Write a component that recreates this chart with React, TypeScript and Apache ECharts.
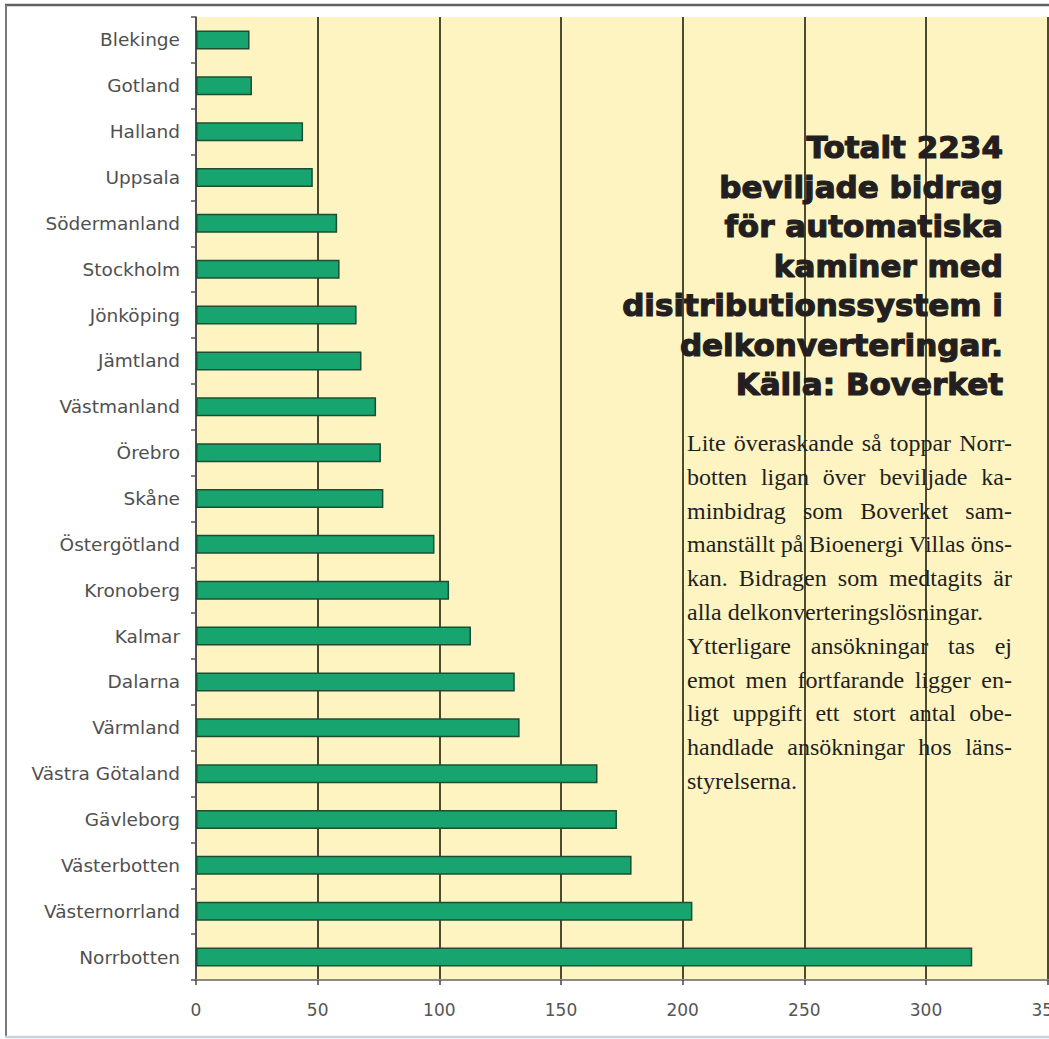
import React, { useEffect, useRef } from "react";
import * as echarts from "echarts";

const categories = [
  "Blekinge", "Gotland", "Halland", "Uppsala", "Södermanland", "Stockholm",
  "Jönköping", "Jämtland", "Västmanland", "Örebro", "Skåne", "Östergötland",
  "Kronoberg", "Kalmar", "Dalarna", "Värmland", "Västra Götaland", "Gävleborg",
  "Västerbotten", "Västernorrland", "Norrbotten",
];
const values = [
  22, 23, 44, 48, 58, 59, 66, 68, 74, 76, 77, 98, 104, 113, 131, 133, 165, 173,
  179, 204, 319,
];
const xMin = 0;
const xMax = 360;
const xInterval = 50;

const titleLines = [
  "Totalt 2234",
  "beviljade bidrag",
  "för automatiska",
  "kaminer med",
  "disitributionssystem i",
  "delkonverteringar.",
  "Källa: Boverket",
];
const bodyLines = [
  "Lite överaskande så toppar Norr-",
  "botten ligan över beviljade ka-",
  "minbidrag som Boverket sam-",
  "manställt på Bioenergi Villas öns-",
  "kan. Bidragen som medtagits är",
  "alla delkonverteringslösningar.",
  "Ytterligare ansökningar tas ej",
  "emot men fortfarande ligger en-",
  "ligt uppgift ett stort antal obe-",
  "handlade ansökningar hos läns-",
  "styrelserna.",
];
const paragraphEnds = [5, 10];

const BODY_X = 687;
const BODY_W = 325;
const BODY_FONT_SIZE = 24;
const BODY_FAMILY = "'Liberation Serif', serif";

function buildBody(): any[] {
  const canvas = document.createElement("canvas");
  const ctx = canvas.getContext("2d")!;
  ctx.font = `${BODY_FONT_SIZE}px ${BODY_FAMILY}`;
  const out: any[] = [];
  bodyLines.forEach((line, i) => {
    const y = 443 + i * 33.8;
    const justified = paragraphEnds.indexOf(i) < 0;
    const base = {
      fontSize: BODY_FONT_SIZE,
      fontFamily: BODY_FAMILY,
      fill: "#231f20",
      textAlign: "left",
      textVerticalAlign: "middle",
    };
    if (!justified) {
      out.push({ type: "text", x: BODY_X, y, z: 100, style: { ...base, text: line } });
      return;
    }
    const words = line.split(" ");
    const widths = words.map((w) => ctx.measureText(w).width);
    const total = widths.reduce((a, b) => a + b, 0);
    const gap = words.length > 1 ? (BODY_W - total) / (words.length - 1) : 0;
    let x = BODY_X;
    words.forEach((w, k) => {
      out.push({ type: "text", x, y, z: 100, style: { ...base, text: w } });
      x += widths[k] + gap;
    });
  });
  return out;
}

export default function App() {
  const ref = useRef<HTMLDivElement>(null);
  useEffect(() => {
    if (!ref.current) return;
    const chart = echarts.init(ref.current, null, { renderer: "svg" });
    const titleEls = titleLines.map((t, i) => ({
      type: "text",
      x: 1003,
      y: 147 + i * 39.5,
      z: 100,
      style: {
        text: t,
        fontSize: 31,
        fontWeight: "bold",
        fontFamily: "'DejaVu Sans', sans-serif",
        fill: "#231f20",
        stroke: "#231f20",
        lineWidth: 1.2,
        textAlign: "right",
        textVerticalAlign: "middle",
      },
    }));
    chart.setOption({
      animation: false,
      backgroundColor: "#ffffff",
      grid: {
        left: 196,
        right: 48,
        top: 17,
        bottom: 59,
        show: true,
        backgroundColor: "#fdf4c2",
        borderWidth: 0,
      },
      xAxis: {
        type: "value",
        min: xMin,
        max: xMax,
        interval: xInterval,
        axisLine: { show: true, lineStyle: { color: "#8c8a7c", width: 2 } },
        axisTick: { show: true, length: 5, lineStyle: { color: "#444", width: 1.5 } },
        splitLine: { show: true, lineStyle: { color: "#4e4a30", width: 2 } },
        axisLabel: {
          margin: 21,
          fontSize: 17,
          fontFamily: "'DejaVu Sans', sans-serif",
          color: "#555555",
        },
      },
      yAxis: {
        type: "category",
        data: categories,
        inverse: true,
        axisLine: { show: true, lineStyle: { color: "#555555", width: 1.5 } },
        axisTick: { show: true, length: 5, lineStyle: { color: "#555555", width: 1.5 } },
        axisLabel: {
          margin: 16,
          fontSize: 18.5,
          fontFamily: "'DejaVu Sans', sans-serif",
          color: "#505050",
        },
        splitLine: { show: false },
      },
      series: [
        {
          type: "bar",
          data: values,
          barWidth: 19,
          itemStyle: {
            color: "#17a46f",
            borderColor: "#1f4d34",
            borderWidth: 1.5,
          },
        },
      ],
      graphic: [
        {
          type: "line",
          z: 110,
          shape: { x1: 5, y1: 5, x2: 1120, y2: 5 },
          style: { stroke: "#606060", lineWidth: 2.5 },
        },
        {
          type: "line",
          z: 110,
          shape: { x1: 6, y1: 5, x2: 6, y2: 1036 },
          style: { stroke: "#7a7a7a", lineWidth: 2 },
        },
        {
          type: "line",
          z: 110,
          shape: { x1: 5, y1: 1037, x2: 1120, y2: 1037 },
          style: { stroke: "#c8d3dc", lineWidth: 2.5 },
        },
        ...titleEls,
        ...buildBody(),
      ],
    });
    return () => chart.dispose();
  }, []);
  return (
    <div
      style={{
        position: "absolute",
        left: 0,
        top: 0,
        width: 1049,
        height: 1039,
        overflow: "hidden",
        background: "#ffffff",
      }}
    >
      <div ref={ref} style={{ width: 1120, height: 1039 }} />
    </div>
  );
}
